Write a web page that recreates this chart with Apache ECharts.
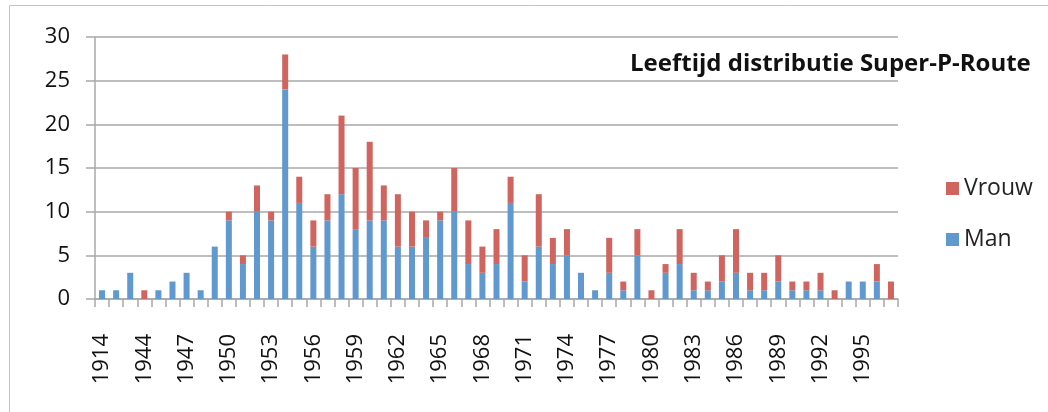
<!DOCTYPE html>
<html>
<head>
<meta charset="utf-8">
<script src="https://cdn.jsdelivr.net/npm/echarts@6/dist/echarts.min.js"></script>
<style>html,body{margin:0;padding:0;background:#fff}#c{width:1048px;height:412px}</style>
</head>
<body>
<div id="c"></div>
<script>
const years = ['1914','1939','1943','1944','1945','1946','1947','1948','1949','1950','1951','1952','1953','1954','1955','1956','1957','1958','1959','1960','1961','1962','1963','1964','1965','1966','1967','1968','1969','1970','1971','1972','1973','1974','1975','1976','1977','1978','1979','1980','1981','1982','1983','1984','1985','1986','1987','1988','1989','1990','1991','1992','1993','1994','1995','1996','1997'];
const man =   [1,1,3,0,1,2,3,1,6,9,4,10,9,24,11,6,9,12,8,9,9,6,6,7,9,10,4,3,4,11,2,6,4,5,3,1,3,1,5,0,3,4,1,1,2,3,1,1,2,1,1,1,0,2,2,2,0];
const vrouw = [0,0,0,1,0,0,0,0,0,1,1,3,1,4,3,3,3,9,7,9,4,6,4,2,1,5,5,3,4,3,3,6,3,3,0,0,4,1,3,1,1,4,2,1,3,5,2,2,3,1,1,2,1,0,0,2,2];
const yTicks = [0,5,10,15,20,25,30];
const title = 'Leeftijd distributie Super-P-Route';

const FONT = '"Open Sans", "Noto Sans", sans-serif';
const chart = echarts.init(document.getElementById('c'), null, {renderer:'canvas'});
chart.setOption({
  animation:false,
  backgroundColor:'#fff',
  graphic:[{type:'rect', shape:{x:9.5,y:5.5,width:1200,height:600}, style:{fill:'none',stroke:'#c4c4c4',lineWidth:1}, z:-1}],
  title:{text:title, left:625, top:47, textStyle:{fontFamily:FONT, fontWeight:'bold', fontSize:24, color:'#111'}},
  legend:{data:['Vrouw','Man'], orient:'vertical', left:941, top:172, itemWidth:13, itemHeight:13, itemGap:28, icon:'rect',
    textStyle:{fontFamily:FONT, fontSize:23, color:'#222'}},
  grid:{left:95, right:150, top:37, bottom:113},
  xAxis:{type:'category', data:years, boundaryGap:true,
    axisLine:{lineStyle:{color:'#a8a8a8', width:1.5}},
    axisTick:{show:true, interval:0, length:8, lineStyle:{color:'#a8a8a8', width:1.5}},
    axisLabel:{interval:2, rotate:90, margin:35, fontFamily:FONT, fontSize:22, color:'#111'}},
  yAxis:{type:'value', min:0, max:30, interval:5,
    axisLine:{show:true, lineStyle:{color:'#a8a8a8', width:1.5}},
    axisTick:{show:true, length:9, lineStyle:{color:'#a8a8a8', width:1.5}},
    splitLine:{lineStyle:{color:'#a8a8a8', width:1.5}},
    axisLabel:{margin:25, fontFamily:FONT, fontSize:22, color:'#111',
      formatter:v=>yTicks.includes(v)?String(v):''}},
  series:[
    {name:'Man', type:'bar', stack:'a', data:man, barWidth:6, itemStyle:{color:'#6098d0'}},
    {name:'Vrouw', type:'bar', stack:'a', data:vrouw, barWidth:6, itemStyle:{color:'#d0645e'}}
  ]
});
</script>
</body>
</html>
